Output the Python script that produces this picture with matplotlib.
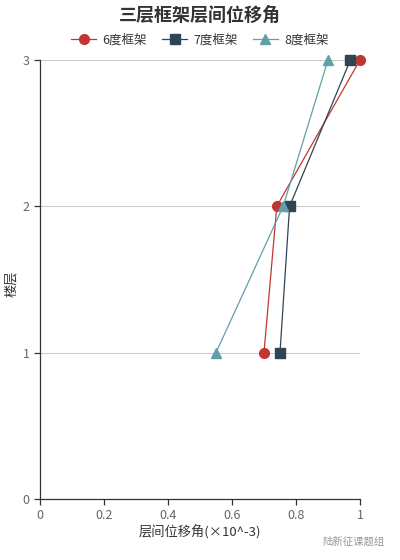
import matplotlib
matplotlib.use("Agg")
import matplotlib.pyplot as plt

plt.rcParams['font.family'] = ['Noto Sans CJK SC', 'DejaVu Sans']

# 楼层
floors = [1, 2, 3]

# 层间位移角 (×10^-3)
drift_6 = [0.70, 0.74, 1.00]
drift_7 = [0.75, 0.78, 0.97]
drift_8 = [0.55, 0.76, 0.90]

series_names = ["6度框架", "7度框架", "8度框架"]
colors = ["#c23531", "#2f4554", "#61a0a8"]
markers = ["o", "s", "^"]

x_ticks = [0, 0.2, 0.4, 0.6, 0.8, 1]
x_tick_labels = ["0", "0.2", "0.4", "0.6", "0.8", "1"]
y_ticks = [0, 1, 2, 3]

fig = plt.figure(figsize=(4, 5.6), dpi=100)
ax = fig.add_axes([0.1, 0.109, 0.8, 0.784])

for data, name, c, m in zip([drift_6, drift_7, drift_8], series_names, colors, markers):
    ax.plot(
        data,
        floors,
        color=c,
        marker=m,
        markersize=7,
        linewidth=0.9,
        label=name,
        clip_on=False,
        zorder=3
    )

ax.set_xlim(0, 1)
ax.set_ylim(0, 3)
ax.set_xticks(x_ticks)
ax.set_xticklabels(x_tick_labels)
ax.set_yticks(y_ticks)

ax.grid(axis="y", color="#cccccc", linewidth=0.8)
ax.set_axisbelow(True)

for side in ["top", "right"]:
    ax.spines[side].set_visible(False)
for side in ["left", "bottom"]:
    ax.spines[side].set_color("#333333")
    ax.spines[side].set_linewidth(0.9)

ax.tick_params(
    axis="both",
    colors="#333333",
    labelcolor="#666666",
    labelsize=9,
    length=4,
    width=0.9
)

ax.set_xlabel("层间位移角(×10^-3)", fontsize=9.5, color="#333333", labelpad=2)
ax.set_ylabel("楼层", fontsize=9.5, color="#333333")
ax.yaxis.set_label_coords(-0.068, 0.49)

fig.text(
    0.5,
    0.973,
    "三层框架层间位移角",
    ha="center",
    va="center",
    fontsize=13,
    fontweight="bold",
    color="#333333"
)

fig.legend(
    loc="center",
    bbox_to_anchor=(0.5, 0.929),
    ncol=3,
    frameon=False,
    fontsize=9,
    handlelength=2.0,
    columnspacing=1.2,
    handletextpad=0.5,
    labelcolor="#333333"
)

# 水印
fig.text(
    0.96,
    0.032,
    "陆新征课题组",
    ha="right",
    va="center",
    fontsize=7.5,
    color="#999999"
)

plt.savefig("out.png", dpi=100)
plt.close()
